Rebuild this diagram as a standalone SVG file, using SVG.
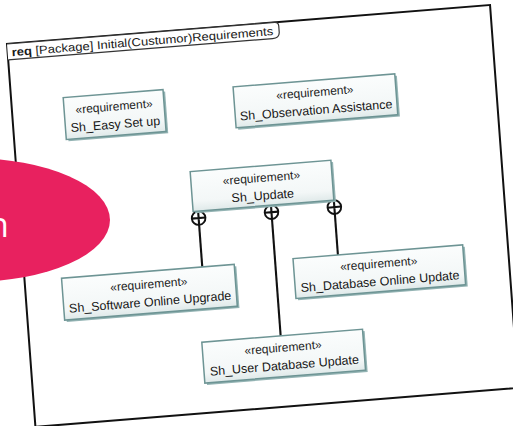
<svg xmlns="http://www.w3.org/2000/svg" width="513" height="426" viewBox="0 0 513 426">
  <style>
    .frame { fill: #ffffff; stroke: #111111; stroke-width: 2; }
    .tab { fill: #ffffff; stroke: #333333; stroke-width: 1.2; }
    .title { font-family: "Liberation Sans", Arial, sans-serif; font-size: 11.5px; fill: #1a1a1a; }
    .sh { fill: #93b3b3; }
    .box { fill: url(#boxFill); stroke: #6d9494; stroke-width: 1.5; }
    .st { font-family: "Liberation Sans", Arial, sans-serif; font-size: 12px; fill: #1e1e1e; text-anchor: middle; }
    .nm { font-family: "Liberation Sans", Arial, sans-serif; font-size: 12.5px; fill: #161616; text-anchor: middle; }
    .wire { stroke: #111111; stroke-width: 2.1; fill: none; }
    .ring { stroke: #111111; stroke-width: 1.9; fill: #ffffff; }
  </style>
  <defs>
    <linearGradient id="boxFill" x1="0" y1="0" x2="0" y2="1">
      <stop offset="0" stop-color="#fbfdfd"/>
      <stop offset="0.75" stop-color="#f3f7f7"/>
      <stop offset="1" stop-color="#dfe9e9"/>
    </linearGradient>
    <!-- containment mark: ring with a cross -->
    <g id="contain">
      <circle class="ring" cx="0" cy="0" r="6.8"/>
      <path class="wire" stroke-width="1.7" d="M-6.8,0 H6.8 M0,-6.8 V6.8"/>
    </g>
  </defs>

  <rect x="0" y="0" width="513" height="426" fill="#ffffff"/>

  <!-- the whole sheet sits slightly tilted -->
  <g transform="matrix(0.998,-0.0806,0.074,0.997,7,44)">
    <g id="frame">
      <rect class="frame" x="0" y="0" width="484" height="384"/>
      <path class="tab" d="M0,0 H268 Q272,0 272,4 V10 Q272,16 265,16 H0"/>
      <text class="title" x="4" y="12.5" textLength="262" lengthAdjust="spacingAndGlyphs"><tspan font-weight="bold">req</tspan> [Package] Initial(Custumor)Requirements</text>
    </g>

    <g id="connectors">
      <line class="wire" x1="178" y1="195.8" x2="178" y2="238"/>
      <line class="wire" x1="251" y1="195.8" x2="251" y2="313"/>
      <line class="wire" x1="314" y1="195.8" x2="314" y2="237"/>
      <use href="#contain" x="178" y="189"/>
      <use href="#contain" x="251" y="189"/>
      <use href="#contain" x="314" y="189"/>
    </g>

    <g id="sh-easy-setup">
      <rect class="sh" x="54" y="60" width="100" height="42"/>
      <rect class="box" x="52" y="58" width="100" height="42"/>
      <text class="st" x="102" y="75">«requirement»</text>
      <text class="nm" x="102" y="93">Sh_Easy Set up</text>
    </g>

    <g id="sh-observation-assistance">
      <rect class="sh" x="224" y="63" width="162" height="41"/>
      <rect class="box" x="222" y="61" width="162" height="41"/>
      <text class="st" x="303" y="77">«requirement»</text>
      <text class="nm" x="303" y="95">Sh_Observation Assistance</text>
    </g>

    <g id="sh-update">
      <rect class="sh" x="175" y="144" width="141" height="40"/>
      <rect class="box" x="173" y="142" width="141" height="40"/>
      <text class="st" x="243.5" y="158">«requirement»</text>
      <text class="nm" x="243.5" y="176">Sh_Update</text>
    </g>

    <g id="sh-software-online-upgrade">
      <rect class="sh" x="39" y="240" width="173" height="42"/>
      <rect class="box" x="37" y="238" width="173" height="42"/>
      <text class="st" x="123.5" y="255">«requirement»</text>
      <text class="nm" x="123.5" y="273">Sh_Software Online Upgrade</text>
    </g>

    <g id="sh-database-online-update">
      <rect class="sh" x="271" y="239" width="170" height="40"/>
      <rect class="box" x="269" y="237" width="170" height="40"/>
      <text class="st" x="354" y="253">«requirement»</text>
      <text class="nm" x="354" y="271">Sh_Database Online Update</text>
    </g>

    <g id="sh-user-database-update">
      <rect class="sh" x="174" y="315" width="161" height="41"/>
      <rect class="box" x="172" y="313" width="161" height="41"/>
      <text class="st" x="252.5" y="329">«requirement»</text>
      <text class="nm" x="252.5" y="347">Sh_User Database Update</text>
    </g>
  </g>

  <!-- pink badge over the left edge -->
  <g id="badge">
    <ellipse cx="-30" cy="220" rx="140" ry="62" fill="#e8215f"/>
    <text x="-12" y="237" font-family="'Open Sans', 'Noto Sans', sans-serif" font-size="34" fill="#ffffff">n</text>
  </g>
</svg>
